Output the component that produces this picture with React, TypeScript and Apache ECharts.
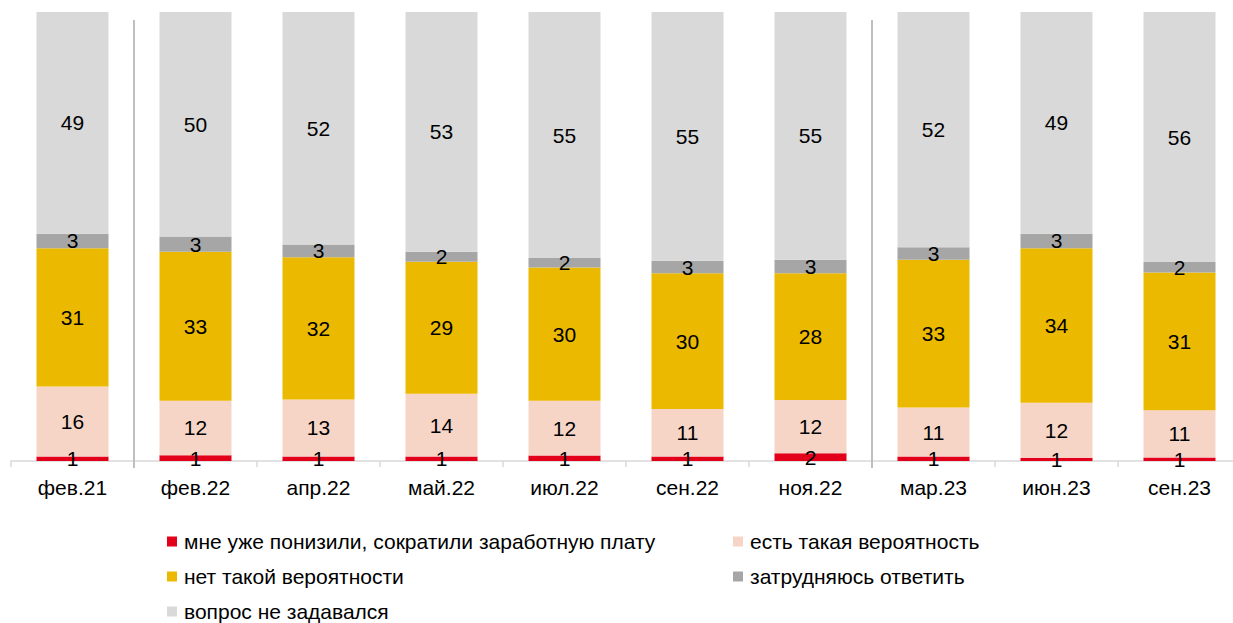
import React, { useEffect, useRef } from "react";
import * as echarts from "echarts";

const categories = ["фев.21", "фев.22", "апр.22", "май.22", "июл.22", "сен.22", "ноя.22", "мар.23", "июн.23", "сен.23"];
const seriesNames = [
  "мне уже понизили, сократили заработную плату",
  "есть такая вероятность",
  "нет такой вероятности",
  "затрудняюсь ответить",
  "вопрос не задавался",
];
const cutAlready = [1.0, 1.3, 1.0, 1.0, 1.2, 1.0, 1.7, 1.0, 0.7, 0.8];
const possible = [15.6, 12.1, 12.7, 14.0, 12.2, 10.6, 11.9, 10.9, 12.3, 10.5];
const notPossible = [30.8, 33.2, 31.7, 29.4, 29.7, 30.2, 28.2, 32.9, 34.4, 30.7];
const hardToSay = [3.2, 3.4, 2.8, 2.2, 2.1, 2.8, 3.0, 2.8, 3.2, 2.3];
const notAsked = [49.4, 50.0, 51.8, 53.4, 54.8, 55.4, 55.2, 52.4, 49.4, 55.7];
// separators placed before these category indices
const separatorsBefore = [1, 7];

const colors = ["#E2001A", "#F6D5C7", "#EAB900", "#A6A6A6", "#D9D9D9"];
const FONT = "'Liberation Sans', Arial, sans-serif";

export default function App() {
  const ref = useRef<HTMLDivElement>(null);
  useEffect(() => {
    if (!ref.current) return;
    const chart = echarts.init(ref.current, undefined, { renderer: "svg" });
    const dataSets = [cutAlready, possible, notPossible, hardToSay, notAsked];
    const legendPos = [
      { left: 162, top: 526 },
      { left: 728, top: 526 },
      { left: 162, top: 561 },
      { left: 728, top: 561 },
      { left: 162, top: 596 },
    ];
    chart.setOption({
      animation: false,
      textStyle: { fontFamily: FONT },
      grid: { left: 11, top: 12, width: 1230, height: 449, containLabel: false },
      xAxis: {
        type: "category",
        data: categories,
        axisLine: { lineStyle: { color: "#D9D9D9", width: 1.5 } },
        axisTick: { show: true, length: 6, lineStyle: { color: "#D9D9D9", width: 1.5 } },
        axisLabel: { color: "#000", fontSize: 21, fontFamily: FONT, margin: 16 },
      },
      yAxis: { type: "value", min: 0, max: 100, show: false },
      legend: legendPos.map((p, i) => ({
        data: [seriesNames[i]],
        left: p.left,
        top: p.top,
        icon: "rect",
        itemWidth: 10,
        itemHeight: 10,
        selectedMode: false,
        textStyle: { fontSize: 21, color: "#000", fontFamily: FONT, padding: [0, 0, 0, 2] },
      })),
      series: dataSets.map((d, i) => ({
        name: seriesNames[i],
        type: "bar",
        stack: "total",
        barWidth: 72,
        data: d,
        itemStyle: { color: colors[i] },
        label: {
          show: true,
          position: "inside",
          color: "#000",
          fontSize: 21,
          fontFamily: FONT,
          formatter: (p: any) => String(Math.round(p.value)),
        },
      })),
    });
    const graphics = separatorsBefore.map((idx) => {
      const a = chart.convertToPixel({ xAxisIndex: 0 }, idx - 1) as number;
      const b = chart.convertToPixel({ xAxisIndex: 0 }, idx) as number;
      const x = (a + b) / 2;
      return {
        type: "line",
        shape: { x1: x, y1: 20, x2: x, y2: 468 },
        style: { stroke: "#BFBFBF", lineWidth: 2 },
        z: 10,
      };
    });
    chart.setOption({ graphic: graphics });
    return () => chart.dispose();
  }, []);
  return (
    <div style={{ position: "absolute", left: 0, top: 0, width: 1233, height: 623, overflow: "hidden" }}>
      <div ref={ref} style={{ width: 1260, height: 623 }} />
    </div>
  );
}
